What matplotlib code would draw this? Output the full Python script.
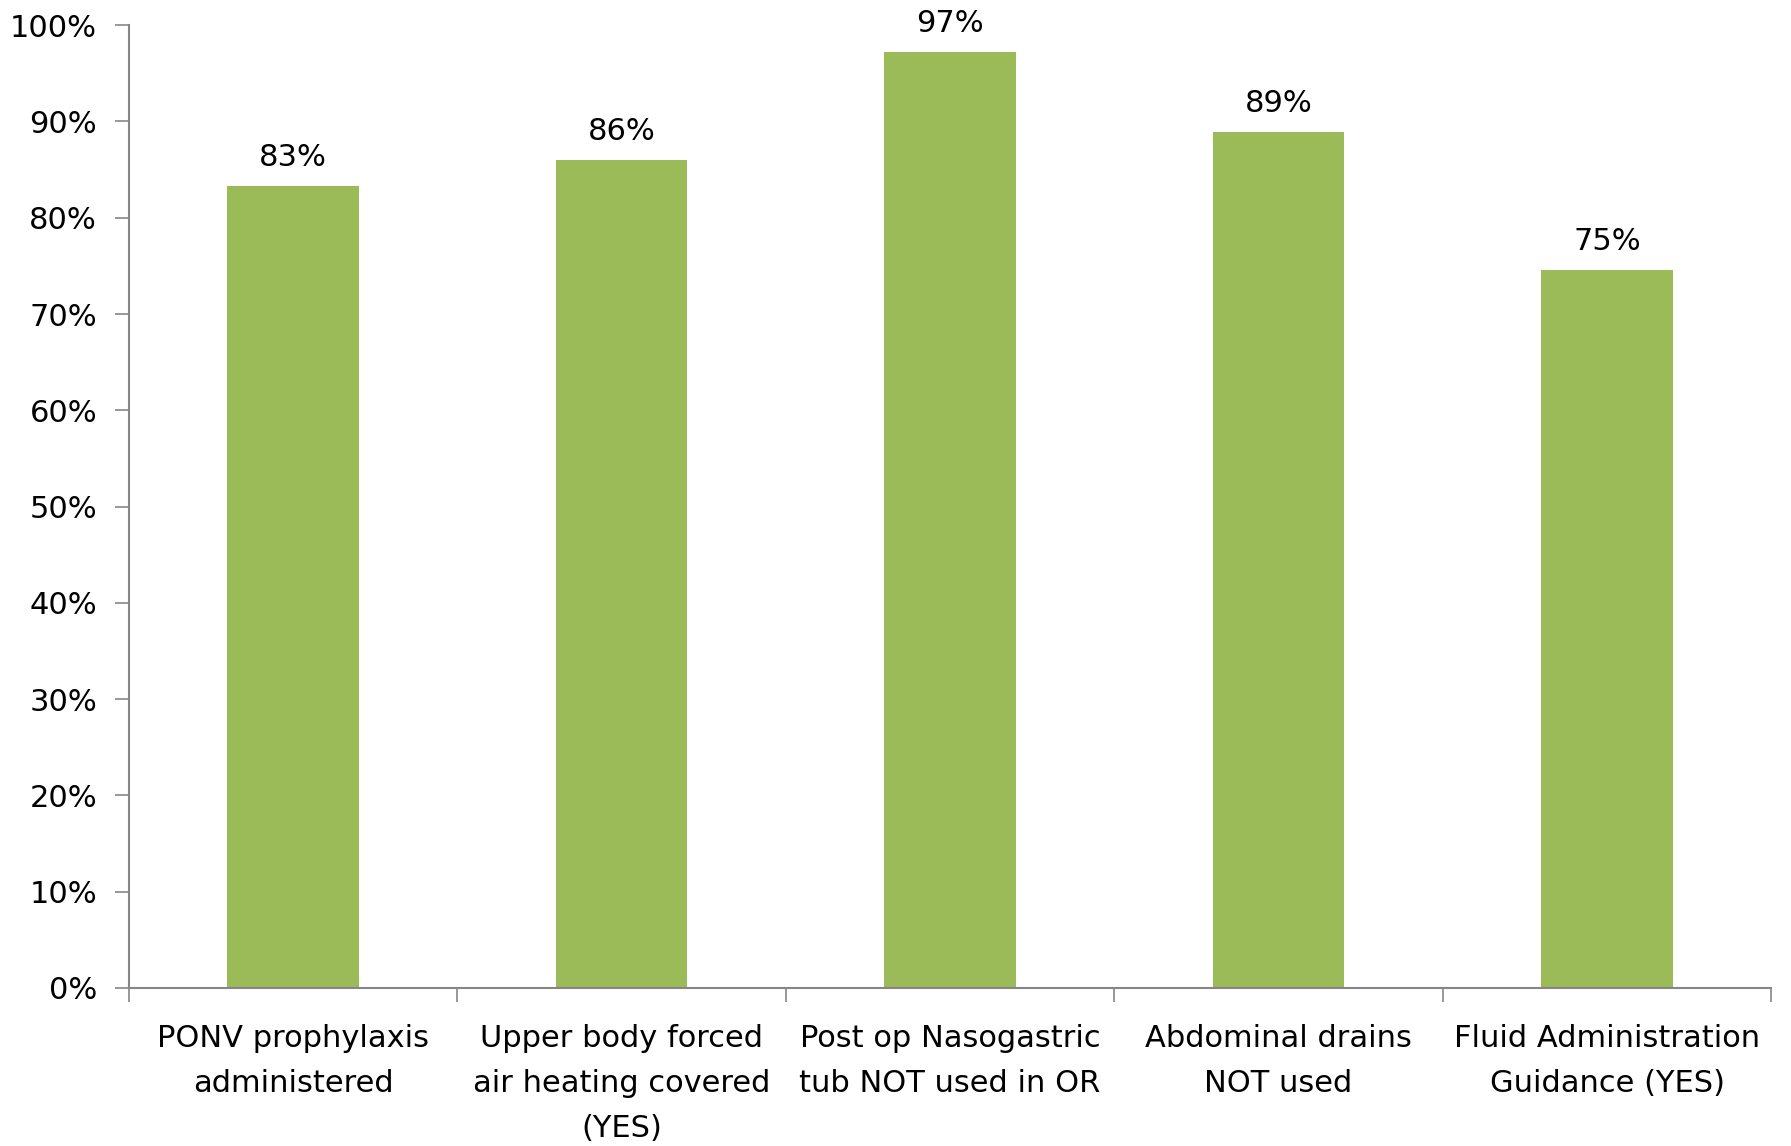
import matplotlib
matplotlib.use("Agg")
import matplotlib.pyplot as plt
from matplotlib.ticker import FixedLocator, PercentFormatter

categories = [
    "PONV prophylaxis\nadministered",
    "Upper body forced\nair heating covered\n(YES)",
    "Post op Nasogastric\ntub NOT used in OR",
    "Abdominal drains\nNOT used",
    "Fluid Administration\nGuidance (YES)",
]
compliance = [83.3, 86.0, 97.2, 88.9, 74.6]  # percent
y_ticks = list(range(0, 101, 10))

BAR_COLOR = "#9BBB59"
AXIS_COLOR = "#868686"

plt.rcParams["font.family"] = ["DejaVu Sans"]

fig = plt.figure(figsize=(17.91, 11.46), dpi=100)
ax = fig.add_axes([0.072, 0.138, 0.917, 0.840])

x = range(len(categories))
bars = ax.bar(x, compliance, width=0.4, color=BAR_COLOR, zorder=2)

for rect, val in zip(bars, compliance):
    ax.annotate(f"{round(val):d}%",
                (rect.get_x() + rect.get_width() / 2, rect.get_height()),
                textcoords="offset points", xytext=(0, 10),
                ha="center", va="bottom", fontsize=22)

ax.set_xlim(-0.5, len(categories) - 0.5)
ax.set_ylim(0, 100)
ax.set_yticks(y_ticks)
ax.yaxis.set_major_formatter(PercentFormatter(decimals=0))

# category labels centred, tick marks on the boundaries between them
ax.set_xticks(list(x))
ax.set_xticklabels(categories, fontsize=22, linespacing=1.7)
ax.xaxis.set_minor_locator(FixedLocator([i - 0.5 for i in range(len(categories) + 1)]))
ax.tick_params(axis="x", which="major", length=0, pad=26)
ax.tick_params(axis="x", which="minor", length=10, width=1.2, color=AXIS_COLOR)
ax.tick_params(axis="y", length=10, width=1.2, color=AXIS_COLOR, labelsize=22, pad=13)

for side in ("top", "right"):
    ax.spines[side].set_visible(False)
for side in ("left", "bottom"):
    ax.spines[side].set_color(AXIS_COLOR)
    ax.spines[side].set_linewidth(1.5)

fig.savefig("out.png", dpi=100)
